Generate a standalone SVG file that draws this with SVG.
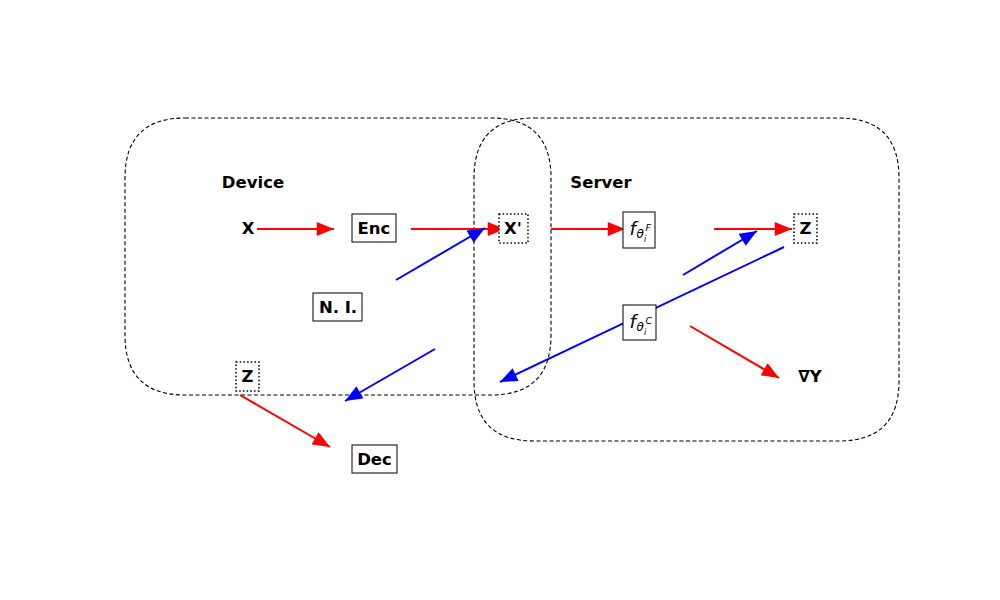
<svg xmlns="http://www.w3.org/2000/svg" width="1000" height="600" viewBox="0 0 1000 600">
<style>
text{font-family:"DejaVu Sans","Liberation Sans",sans-serif;fill:#000}
.lbl{font-size:16.5px;font-weight:bold;text-anchor:middle;dominant-baseline:central}
.box{fill:#fff;stroke:#000;stroke-width:1}
.dot{fill:#fff;stroke:#000;stroke-width:1.5;stroke-dasharray:1.5,2.2}
.region{fill:none;stroke:#000;stroke-width:1.1;stroke-dasharray:4,2.5}
.r{stroke:#f00;stroke-width:2;fill:none;marker-end:url(#ah-r)}
.b{stroke:#00f;stroke-width:2;fill:none;marker-end:url(#ah-b)}
.m{font-style:italic}
</style>
<defs>
<marker id="ah-r" markerUnits="userSpaceOnUse" markerWidth="18" markerHeight="14" refX="16" refY="6.5" orient="auto" viewBox="0 0 16 13">
<path d="M0,0 L16,6.5 L0,13 Z" fill="#f00"/>
</marker>
<marker id="ah-b" markerUnits="userSpaceOnUse" markerWidth="18" markerHeight="14" refX="16" refY="6.5" orient="auto" viewBox="0 0 16 13">
<path d="M0,0 L16,6.5 L0,13 Z" fill="#00f"/>
</marker>
</defs>
<rect width="1000" height="600" fill="#fff"/>
<g id="regions">
<path id="device-region" class="region" d="M185,118 L491,118 Q551,118 551,178 L551,335 Q551,395 491,395 L185,395 Q125,395 125,335 L125,178 Q125,118 185,118 Z"/>
<path id="server-region" class="region" d="M534,118 L839,118 Q899,118 899,178 L899,381 Q899,441 839,441 L534,441 Q474,441 474,381 L474,178 Q474,118 534,118 Z"/>
</g>
<g id="connectors">
<line class="r" x1="257" y1="229" x2="334" y2="229"/>
<line class="r" x1="411" y1="229" x2="505" y2="229"/>
<line class="r" x1="551" y1="229" x2="625" y2="229"/>
<line class="r" x1="714" y1="229" x2="792" y2="229"/>
<line class="r" x1="690" y1="326" x2="779" y2="378"/>
<line class="r" x1="240" y1="395" x2="330" y2="447"/>
<line class="b" x1="396" y1="280" x2="485" y2="228"/>
<line class="b" x1="435" y1="349" x2="345" y2="401"/>
<line class="b" x1="784" y1="247" x2="500" y2="382"/>
<line class="b" x1="683" y1="275" x2="757" y2="231"/>
</g>
<g id="label-device"><text class="lbl" x="253" y="182">Device</text></g>
<g id="label-server"><text class="lbl" x="601" y="182">Server</text></g>
<g id="node-x"><text class="lbl" x="248" y="228">X</text></g>
<g id="node-enc"><rect class="box" x="352" y="214" width="44" height="28"/><text class="lbl" x="374" y="228">Enc</text></g>
<g id="node-xprime"><rect class="dot" x="499" y="214" width="29" height="29"/><text class="lbl" x="513" y="228">X'</text></g>
<g id="node-ni"><rect class="box" x="313" y="293" width="49" height="28"/><text class="lbl" x="338" y="307">N. I.</text></g>
<g id="node-ff"><rect class="box" x="623" y="212" width="32" height="36"/>
<text class="m" x="629.5" y="235" font-size="18.5">f</text>
<text class="m" x="636.5" y="238" font-size="12">θ</text>
<text class="m" x="645.5" y="231" font-size="9.5">F</text>
<text class="m" x="644" y="242" font-size="8">i</text>
</g>
<g id="node-fc"><rect class="box" x="623" y="305" width="33" height="35"/>
<text class="m" x="629.5" y="328" font-size="18.5">f</text>
<text class="m" x="636.5" y="331" font-size="12">θ</text>
<text class="m" x="645.5" y="324" font-size="9.5">C</text>
<text class="m" x="644" y="335" font-size="8">i</text>
</g>
<g id="node-z-server"><rect class="dot" x="794" y="214" width="23" height="29"/><text class="lbl" x="805.5" y="228">Z</text></g>
<g id="node-z-device"><rect class="dot" x="236" y="362" width="23" height="29"/><text class="lbl" x="247.5" y="376">Z</text></g>
<g id="node-grad-y"><text class="lbl" x="810" y="376">∇Y</text></g>
<g id="node-dec"><rect class="box" x="352" y="445" width="45" height="28"/><text class="lbl" x="374.5" y="459">Dec</text></g>
</svg>
